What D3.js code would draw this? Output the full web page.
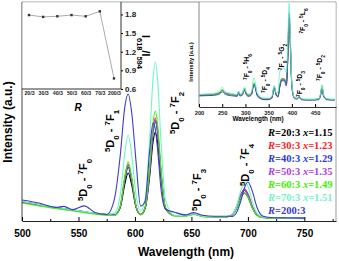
<!DOCTYPE html>
<html>
<head>
<meta charset="utf-8">
<script src="https://cdn.jsdelivr.net/npm/d3@7"></script>
<style>
  body { margin: 0; background: #fff; }
  svg { display: block; font-family: Arial, "Liberation Sans", sans-serif; }
</style>
</head>
<body>
<svg id="chart" width="339" height="261"></svg>
<script>
// ---- main emission spectra (intensity, a.u.) ----
const wavelengths = [500, 515, 530, 537, 545, 555, 565, 575, 582, 587, 591, 594, 597, 601, 605, 609, 613, 616, 618, 620,
  623, 627, 635, 645, 652, 660, 670, 680, 686, 690, 694, 697, 700, 704, 708, 713, 720, 735, 750];

const r20 = [8.6, 7.3, 6.0, 5.5, 4.9, 4.1, 3.4, 2.9, 2.7, 6.1, 16.7, 21.9, 16.7, 6.1, 2.9, 5.6, 20.1, 36.0, 40.6, 36.0,
  20.1, 5.6, 2.4, 2.4, 3.1, 2.1, 1.9, 1.8, 2.7, 5.9, 11.0, 12.8, 11.0, 5.9, 2.7, 1.6, 1.4, 1.3, 1.2];
const r30 = [8.8, 7.4, 6.1, 5.6, 5.0, 4.2, 3.5, 3.0, 2.8, 6.7, 19.4, 25.6, 19.4, 6.7, 3.0, 6.2, 23.0, 41.7, 47.0, 41.7,
  23.0, 6.2, 2.5, 2.5, 3.3, 2.2, 2.0, 1.9, 2.9, 6.5, 12.5, 14.6, 12.5, 6.5, 2.9, 1.7, 1.5, 1.3, 1.2];
const r40 = [8.7, 7.4, 6.1, 5.6, 5.0, 4.2, 3.5, 3.0, 2.8, 6.5, 18.6, 24.5, 18.6, 6.5, 3.0, 6.0, 22.3, 40.4, 45.5, 40.4,
  22.3, 6.0, 2.5, 2.5, 3.2, 2.2, 2.0, 1.9, 2.8, 6.3, 12.0, 14.0, 12.0, 6.3, 2.8, 1.7, 1.5, 1.3, 1.2];
const r50 = [8.8, 7.5, 6.2, 5.7, 5.1, 4.3, 3.5, 3.0, 2.8, 6.8, 19.7, 26.0, 19.7, 6.8, 3.0, 6.1, 22.6, 40.8, 46.0, 40.8,
  22.6, 6.1, 2.5, 2.5, 3.3, 2.2, 2.0, 1.9, 2.8, 6.4, 12.2, 14.2, 12.2, 6.4, 2.8, 1.7, 1.5, 1.3, 1.2];
const r60 = [8.2, 6.9, 5.7, 5.2, 4.6, 3.8, 3.1, 2.6, 2.5, 6.8, 20.4, 27.0, 20.4, 6.8, 2.8, 6.2, 24.4, 44.5, 50.2, 44.5,
  24.4, 6.2, 2.3, 2.2, 3.0, 2.0, 1.8, 1.7, 2.6, 5.8, 11.0, 12.8, 11.0, 5.8, 2.6, 1.5, 1.3, 1.2, 1.1];
const r70 = [8.9, 7.5, 6.2, 5.7, 5.1, 4.3, 3.6, 3.1, 3.6, 11.9, 30.9, 39.3, 30.9, 11.9, 4.6, 9.8, 37.0, 64.9, 72.6, 64.9,
  37.0, 9.8, 2.6, 2.4, 3.3, 2.2, 2.0, 2.0, 2.9, 7.0, 14.3, 17.8, 15.9, 8.7, 3.6, 1.8, 1.5, 1.3, 1.2];
const r200 = [9.6, 8.2, 6.2, 6.7, 5.2, 6.9, 3.8, 3.0, 10.5, 30.0, 52.0, 58.0, 50.0, 27.0, 6.8, 9.0, 32.0, 44.7, 42.0, 33.0,
  15.0, 5.5, 4.0, 2.8, 3.9, 2.6, 2.2, 2.2, 2.1, 4.0, 9.6, 15.2, 17.8, 13.5, 6.3, 2.3, 1.6, 1.4, 1.3];

const seriesNames = ["R=20:3", "R=30:3", "R=40:3", "R=50:3", "R=60:3", "R=70:3", "R=200:3"];
const xValues = ["1.15", "1.23", "1.29", "1.35", "1.49", "1.51", null];
const seriesColors = ["#000000", "#ff1a1a", "#2a3ad8", "#b040e0", "#44ee00", "#70f5c8", "#3c3cc8"];
const mainSeries = [r20, r30, r40, r50, r60, r70, r200];
const mainTicks = [500, 550, 600, 650, 700, 750];

// ---- excitation spectra (inset, right) ----
const exWavelengths = [200, 215, 230, 245, 250, 255, 265, 275, 282, 285, 288, 293, 298, 302, 307, 313, 318, 321, 325, 332,
  340, 350, 357, 362, 366, 370, 374, 378, 384, 388, 391, 394, 397, 400, 405, 411, 416, 420, 430, 445, 458, 462, 465, 468, 475, 485, 492];
const ex20 = [11.0, 11.5, 11.8, 13.5, 16.0, 13.5, 12.0, 11.5, 11.0, 14.5, 11.5, 12.0, 17.5, 12.5, 11.0, 12.5, 22.0, 20.0, 12.0, 8.5,
  7.5, 7.5, 9.0, 19.0, 12.0, 10.0, 20.0, 26.0, 26.0, 22.0, 45.0, 85.0, 55.0, 20.0, 9.0, 8.0, 9.5, 7.5, 7.0, 7.0, 7.5, 12.0, 19.0, 11.0, 7.5, 7.0, 7.0];
const ex50 = [11.5, 12.0, 12.2, 14.0, 16.5, 14.0, 12.5, 12.0, 11.5, 14.5, 12.0, 12.5, 18.0, 13.0, 11.5, 13.0, 22.5, 20.5, 12.5, 9.0,
  7.8, 7.8, 9.3, 19.5, 12.5, 10.5, 21.0, 27.0, 27.0, 23.0, 47.0, 90.0, 58.0, 21.0, 9.2, 8.2, 9.7, 7.7, 7.2, 7.2, 7.7, 12.5, 19.5, 11.2, 7.7, 7.2, 7.2];
const ex60 = [11.2, 11.6, 11.8, 13.6, 16.5, 13.6, 12.0, 11.6, 11.2, 14.0, 11.8, 12.2, 17.8, 12.8, 11.2, 12.8, 23.0, 21.0, 12.2, 8.8,
  7.6, 7.6, 9.2, 19.2, 12.2, 10.2, 20.5, 26.5, 26.5, 22.5, 46.0, 82.0, 54.0, 20.5, 9.0, 8.0, 9.5, 7.6, 7.1, 7.1, 7.6, 12.8, 21.0, 11.5, 7.6, 7.1, 7.1];
const ex70 = [12.0, 12.5, 13.0, 15.5, 19.0, 15.5, 13.5, 12.5, 12.0, 15.0, 12.5, 13.0, 19.0, 14.0, 12.5, 14.5, 27.5, 24.0, 14.0, 10.0,
  8.5, 8.5, 10.5, 20.5, 13.5, 14.0, 34.0, 37.0, 37.0, 33.0, 60.0, 99.0, 65.0, 22.0, 9.5, 8.5, 10.0, 8.0, 7.5, 7.5, 8.0, 13.5, 21.0, 12.0, 8.0, 7.5, 7.5];
const ex200 = [10.5, 10.8, 11.0, 12.5, 14.5, 12.5, 11.0, 10.5, 10.0, 13.0, 10.5, 11.0, 16.0, 11.5, 10.0, 11.5, 20.5, 18.5, 11.0, 8.0,
  7.0, 7.0, 8.5, 18.0, 11.5, 9.5, 19.0, 25.0, 25.0, 20.0, 42.0, 88.0, 58.0, 19.0, 8.5, 7.5, 9.0, 7.0, 6.5, 6.5, 7.0, 11.5, 18.0, 10.5, 7.0, 6.5, 6.5];
const exSeries = [ex20, ex50, ex60, ex200, ex70];
const exColors = ["#000000", "#b040e0", "#44ee00", "#3c3cc8", "#70f5c8"];
const exTicks = [200, 250, 300, 350, 400, 450];

// ---- intensity ratio inset (left) ----
const ratioLabels = ["20/3", "30/3", "40/3", "50/3", "60/3", "70/3", "200/3"];
const ratioValues = [1.79, 1.76, 1.77, 1.79, 1.77, 1.85, 0.77];
const ratioTicks = [0.6, 0.9, 1.2, 1.5, 1.8];

const svg = d3.select("#chart");

// helper for text with sub/superscripts: parts = [[text, "sup"|"sub"|""], ...]
function richText(parent, parts, size, weight) {
  const t = parent.append("text")
    .attr("font-size", size)
    .attr("font-weight", weight || "bold");
  parts.forEach(p => {
    const sp = t.append("tspan").text(p[0]);
    if (p[1] === "sup") sp.attr("font-size", size * 0.72).attr("baseline-shift", "super");
    if (p[1] === "sub") sp.attr("font-size", size * 0.72).attr("baseline-shift", "sub");
  });
  return t;
}

function rotatedLabel(parts, cx, cy, size, angle) {
  const g = svg.append("g").attr("transform", `translate(${cx},${cy}) rotate(${angle || -90})`);
  richText(g, parts, size).attr("text-anchor", "middle").attr("y", size * 0.35);
  return g;
}

// ================= main chart =================
const x = d3.scaleLinear().domain([500, 778]).range([22, 336]);
const y = d3.scaleLinear().domain([0, 100]).range([221, 2]);

const line = d3.line()
  .x((d, i) => x(wavelengths[i]))
  .y(d => y(d))
  .curve(d3.curveMonotoneX);

svg.append("g").selectAll("path")
  .data(mainSeries)
  .join("path")
  .attr("d", d => line(d))
  .attr("fill", "none")
  .attr("stroke", (d, i) => seriesColors[i])
  .attr("stroke-width", 1.1);

// frame
svg.append("path").attr("d", "M22,2H336V221").attr("fill", "none").attr("stroke", "#999").attr("stroke-width", 1);
svg.append("line").attr("x1", 22).attr("x2", 22).attr("y1", 2).attr("y2", 221).attr("stroke", "#444");

const xAxis = svg.append("g").attr("transform", "translate(0,221)")
  .call(d3.axisBottom(x).tickValues(mainTicks).tickSize(-4).tickSizeOuter(0).tickPadding(9).tickFormat(d3.format("d")));
svg.append("g").attr("transform", "translate(0,221)")
  .call(d3.axisBottom(x).tickValues([525, 575, 625, 675, 725, 775]).tickSize(-2).tickSizeOuter(0).tickFormat(""))
  .select(".domain").remove();
xAxis.selectAll("text").attr("font-size", 10).attr("font-weight", "bold").attr("fill", "#000");
xAxis.select(".domain").attr("stroke", "#222");

svg.append("text").attr("x", 186).attr("y", 256).attr("text-anchor", "middle")
  .attr("font-size", 12).attr("font-weight", "bold").text("Wavelength (nm)");
svg.append("g").attr("transform", "translate(8,122) rotate(-90)")
  .append("text").attr("text-anchor", "middle").attr("y", 4.2)
  .attr("font-size", 12).attr("font-weight", "bold").text("Intensity (a.u.)");

// transition labels
rotatedLabel([["5", "sup"], ["D", ""], ["0", "sub"], [" - ", ""], ["7", "sup"], ["F", ""], ["0", "sub"]], 83, 180, 11);
rotatedLabel([["5", "sup"], ["D", ""], ["0", "sub"], [" - ", ""], ["7", "sup"], ["F", ""], ["1", "sub"]], 110, 131, 11);
rotatedLabel([["5", "sup"], ["D", ""], ["0", "sub"], [" - ", ""], ["7", "sup"], ["F", ""], ["2", "sub"]], 175, 113, 11);
rotatedLabel([["5", "sup"], ["D", ""], ["0", "sub"], [" - ", ""], ["7", "sup"], ["F", ""], ["3", "sub"]], 197, 190, 11);
rotatedLabel([["5", "sup"], ["D", ""], ["0", "sub"], [" - ", ""], ["7", "sup"], ["F", ""], ["4", "sub"]], 245, 165, 11);

// legend
const legend = svg.append("g");
seriesNames.forEach((name, i) => {
  const t = legend.append("text")
    .attr("x", 268).attr("y", 135.5 + i * 13.1)
    .attr("font-family", "'Liberation Serif', 'Times New Roman', serif")
    .attr("font-size", 10.5).attr("font-weight", "bold")
    .attr("fill", seriesColors[i]);
  t.append("tspan").attr("font-style", "italic").text("R");
  t.append("tspan").text(name.slice(1) + (xValues[i] ? " " : ""));
  if (xValues[i]) {
    t.append("tspan").attr("font-style", "italic").text("x");
    t.append("tspan").text("=" + xValues[i]);
  }
});

// ================= inset: ratio =================
const xr = d3.scalePoint().domain(ratioLabels).range([29, 114]);
const yr = d3.scaleLinear().domain([0.6, 2.0]).range([89, 2]);

svg.append("rect").attr("x", 22.5).attr("y", 2.5).attr("width", 98).attr("height", 86).attr("fill", "#fff");
svg.append("path")
  .datum(ratioValues)
  .attr("d", d3.line().x((d, i) => xr(ratioLabels[i])).y(d => yr(d)))
  .attr("fill", "none").attr("stroke", "#aaa").attr("stroke-width", 1);
svg.append("g").selectAll("rect")
  .data(ratioValues)
  .join("rect")
  .attr("x", (d, i) => xr(ratioLabels[i]) - 1.2)
  .attr("y", d => yr(d) - 1.2)
  .attr("width", 2.4).attr("height", 2.4)
  .attr("fill", "#333");

const rAxisB = svg.append("g").attr("transform", "translate(0,89)")
  .call(d3.axisBottom(xr).tickSize(0).tickPadding(2.5));
rAxisB.select(".domain").attr("d", "M22,0H121").attr("stroke", "#333");
rAxisB.selectAll("text").attr("font-size", 5.2).attr("font-weight", "bold").attr("fill", "#222");

const rAxisR = svg.append("g").attr("transform", "translate(121,0)")
  .call(d3.axisRight(yr).tickValues(ratioTicks).tickSize(2).tickSizeOuter(0).tickPadding(2).tickFormat(d3.format(".1f")));
rAxisR.select(".domain").attr("d", "M0,2V89").attr("stroke", "#333");
rAxisR.selectAll("text").attr("font-size", 8).attr("font-weight", "bold").attr("fill", "#222");

svg.append("text").attr("x", 78).attr("y", 111).attr("text-anchor", "middle")
  .attr("font-size", 10).attr("font-weight", "bold").attr("font-style", "italic").text("R");
rotatedLabel([["I", ""], ["618", "sub"], ["/I", ""], ["594", "sub"]], 146, 52, 10.5, 90);

// ================= inset: excitation =================
const xe = d3.scaleLinear().domain([200, 495]).range([199, 336]);
const ye = d3.scaleLinear().domain([0, 100]).range([107, 2]);

svg.append("rect").attr("x", 199.5).attr("y", 2.5).attr("width", 136).attr("height", 104).attr("fill", "#fff");
const exLine = d3.line()
  .x((d, i) => xe(exWavelengths[i]))
  .y(d => ye(d))
  .curve(d3.curveMonotoneX);
svg.append("g").selectAll("path")
  .data(exSeries)
  .join("path")
  .attr("d", d => exLine(d))
  .attr("fill", "none")
  .attr("stroke", (d, i) => exColors[i])
  .attr("stroke-width", 0.9);

svg.append("line").attr("x1", 199).attr("x2", 199).attr("y1", 2).attr("y2", 107).attr("stroke", "#888");
const eAxis = svg.append("g").attr("transform", "translate(0,107)")
  .call(d3.axisBottom(xe).tickValues(exTicks).tickSize(-3).tickSizeOuter(0).tickPadding(3.5).tickFormat(d3.format("d")));
eAxis.select(".domain").attr("stroke", "#333");
eAxis.selectAll("text").attr("font-size", 5.8).attr("font-weight", "bold").attr("fill", "#222");

svg.append("text").attr("x", 258).attr("y", 121).attr("text-anchor", "middle")
  .attr("font-size", 6.4).attr("font-weight", "bold").text("Wavelength (nm)");
svg.append("g").attr("transform", "translate(191,62) rotate(-90)")
  .append("text").attr("text-anchor", "middle").attr("y", 2)
  .attr("font-size", 5.8).attr("font-weight", "bold").text("Intensity (a.u.)");

const exLabels = [
  ["H", "6", 247, 67], ["D", "4", 265, 80], ["G", "2", 282, 57],
  ["L", "6", 303, 21], ["D", "3", 300, 84], ["D", "2", 320, 68]
];
exLabels.forEach(l => {
  rotatedLabel([["7", "sup"], ["F", ""], ["0", "sub"], [" - ", ""], ["5", "sup"], [l[0], ""], [l[1], "sub"]], l[2], l[3], 6.8);
});
</script>
</body>
</html>
